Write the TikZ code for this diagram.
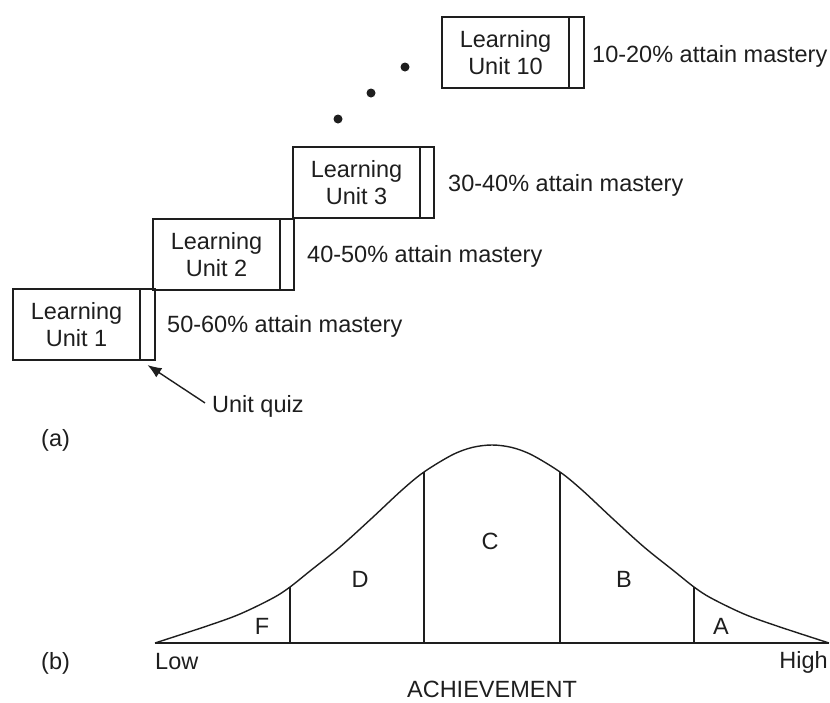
\documentclass[tikz,border=0pt]{standalone}
\usepackage{fontspec}
\setmainfont{Liberation Sans}
\usetikzlibrary{arrows.meta}
\definecolor{ink}{RGB}{30,30,30}
\tikzset{
  unitbox/.style={draw=ink, line width=1.4pt, rectangle, inner sep=0pt, outer sep=0pt, minimum width=127pt, minimum height=71pt, anchor=north west, align=center, font=\fontsize{23.5}{27}\selectfont, text=ink},
  quizbox/.style={draw=ink, line width=1.4pt, rectangle, inner sep=0pt, outer sep=0pt, minimum width=15pt, minimum height=71pt, anchor=north west},
  lbl/.style={font=\fontsize{23.5}{27}\selectfont, text=ink, inner sep=0pt},
  dot/.style={circle, fill=ink, inner sep=0pt, minimum size=9pt},
  ln/.style={draw=ink, line width=1.4pt}
}
\begin{document}
\begin{tikzpicture}[x=1pt, y=-1pt]
\useasboundingbox (0,0) rectangle (830,702);
% (a) staircase of units
\node[unitbox] (u1) at (13,289) {Learning\\Unit 1};
\node[quizbox] (q1) at (u1.north east) {};
\node[unitbox] (u2) at (153,219) {Learning\\Unit 2};
\node[quizbox, minimum width=14pt] (q2) at (u2.north east) {};
\node[unitbox] (u3) at (293,147) {Learning\\Unit 3};
\node[quizbox, minimum width=14pt] (q3) at (u3.north east) {};
\node[unitbox] (u10) at (442,17) {Learning\\Unit 10};
\node[quizbox] (q10) at (u10.north east) {};

\node[lbl, anchor=base west] (m1) at (167,332) {50-60\% attain mastery};
\node[lbl, anchor=base west] (m2) at (307,262) {40-50\% attain mastery};
\node[lbl, anchor=base west] (m3) at (448,191) {30-40\% attain mastery};
\node[lbl, anchor=base west] (m10) at (592,62) {10-20\% attain mastery};

\node[dot] (d1) at (338,119) {};
\node[dot] (d2) at (371,93) {};
\node[dot] (d3) at (405,67) {};

\node[lbl, anchor=base west] (uq) at (212,412) {Unit quiz};
\draw[ln, -{Latex[length=14pt,width=11pt]}] ([shift={(-7pt,3pt)}]uq.west) -- ([yshift=-5pt]q1.south);

\node[lbl, anchor=base west] (la) at (41,446) {(a)};
\node[lbl, anchor=base west] (lb) at (41,669) {(b)};

% (b) normal curve
\coordinate (bl) at (155,643);
\coordinate (br) at (829,643);
\coordinate (tF) at (290,587);
\coordinate (tD) at (424,472);
\coordinate (tC) at (560,472);
\coordinate (tB) at (694,587);
\draw[ln] (bl) -- (br);
\draw[ln] plot[smooth, tension=0.55] coordinates {
 (155,643) (207,626) (240,614) (273,598) (290,587) (310,571) (340,547)
 (372,518) (402,490) (424,472) (452,455) (472,447.5) (492,445)
 (512,447.5) (532,455) (560,472) (582,490) (612,518) (644,547)
 (674,571) (694,587) (711,598) (744,614) (777,626) (829,643)};
\draw[ln] (tF) -- (tF |- bl);
\draw[ln] (tD) -- (tD |- bl);
\draw[ln] (tC) -- (tC |- bl);
\draw[ln] (tB) -- (tB |- bl);
\node[lbl, anchor=base] (gF) at (262,634) {F};
\node[lbl, anchor=base] (gD) at (360,587) {D};
\node[lbl, anchor=base] (gC) at (490,549) {C};
\node[lbl, anchor=base] (gB) at (624,587) {B};
\node[lbl, anchor=base] (gA) at (721,634) {A};
\node[lbl, anchor=base west] (low) at (155,669) {Low};
\node[lbl, anchor=base east] (high) at (828,668) {High};
\node[lbl, anchor=base] (ach) at (492,697) {ACHIEVEMENT};
\end{tikzpicture}
\end{document}
